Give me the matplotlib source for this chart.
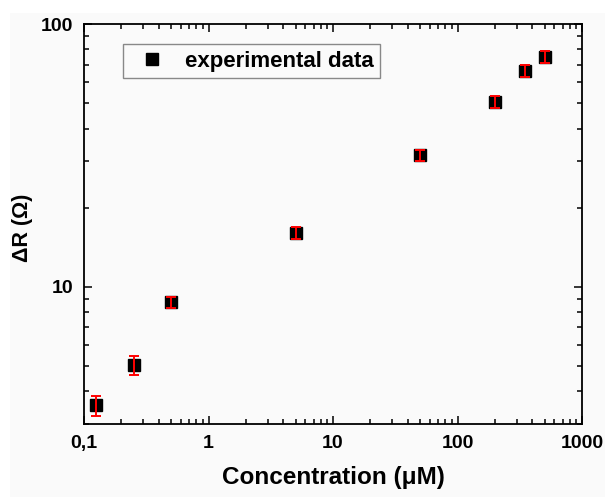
import matplotlib
matplotlib.use("Agg")
import matplotlib.pyplot as plt
from matplotlib.patches import Rectangle
from matplotlib.ticker import FixedLocator, FixedFormatter, LogLocator, NullFormatter

# data
concentration = [0.125, 0.25, 0.5, 5, 50, 200, 350, 500]
delta_r = [3.54, 5.03, 8.72, 16.0, 31.6, 50.4, 66.2, 75.2]
delta_r_err = [0.31, 0.43, 0.42, 0.8, 1.6, 2.7, 3.5, 4.0]

x_ticks = [0.1, 1, 10, 100, 1000]
x_tick_labels = ["0,1", "1", "10", "100", "1000"]
y_ticks = [10, 100]
y_tick_labels = ["10", "100"]

plt.rcParams["font.family"] = ["Liberation Sans", "DejaVu Sans"]

fig = plt.figure(figsize=(6.05, 4.97), dpi=100, facecolor="white")
# light grey canvas, white strip on top and left like the screenshot
fig.patches.append(Rectangle((10 / 605, 0), 1, 1 - 13 / 497, transform=fig.transFigure,
                             facecolor="#fafafa", edgecolor="none", zorder=-10))

ax = fig.add_axes([84 / 605, 1 - 424 / 497, 498 / 605, 400 / 497])
ax.set_facecolor("#fafafa")

ax.plot(concentration, delta_r, linestyle="none", marker="s", markersize=8.5,
        color="black", label="experimental data", zorder=2)
ax.errorbar(concentration, delta_r, yerr=delta_r_err, fmt="none", ecolor="red",
            elinewidth=1.4, capsize=3.3, capthick=1.4, zorder=3)

ax.set_xscale("log")
ax.set_yscale("log")
ax.set_xlim(0.1, 1000)
ax.set_ylim(3, 100)

ax.xaxis.set_major_locator(FixedLocator(x_ticks))
ax.xaxis.set_major_formatter(FixedFormatter(x_tick_labels))
ax.xaxis.set_minor_locator(LogLocator(base=10, subs=range(2, 10)))
ax.xaxis.set_minor_formatter(NullFormatter())
ax.yaxis.set_major_locator(FixedLocator(y_ticks))
ax.yaxis.set_major_formatter(FixedFormatter(y_tick_labels))
ax.yaxis.set_minor_locator(LogLocator(base=10, subs=range(2, 10)))
ax.yaxis.set_minor_formatter(NullFormatter())

ax.tick_params(which="both", direction="in", top=True, right=True, width=1.1)
ax.tick_params(which="major", length=6, labelsize=14, pad=8)
ax.tick_params(which="minor", length=3.5)
for lbl in ax.get_xticklabels() + ax.get_yticklabels():
    lbl.set_fontweight("bold")
for spine in ax.spines.values():
    spine.set_linewidth(1.3)

ax.set_xlabel("Concentration (\u03bcM)", fontsize=17.5, fontweight="bold", labelpad=10)
ax.set_ylabel("\u0394R (\u03a9)", fontsize=15.5, fontweight="bold")
ax.yaxis.set_label_coords(-0.102, 0.49)

leg = ax.legend(loc="upper left", bbox_to_anchor=(0.078, 0.95), borderaxespad=0,
                fancybox=False, framealpha=1, edgecolor="#888888", handlelength=2.0,
                handletextpad=0.5, borderpad=0.3, prop={"size": 16, "weight": "bold"})
leg.get_frame().set_facecolor("#fafafa")
leg.get_frame().set_linewidth(1.0)

fig.savefig("out.png", dpi=100, facecolor=fig.get_facecolor())
